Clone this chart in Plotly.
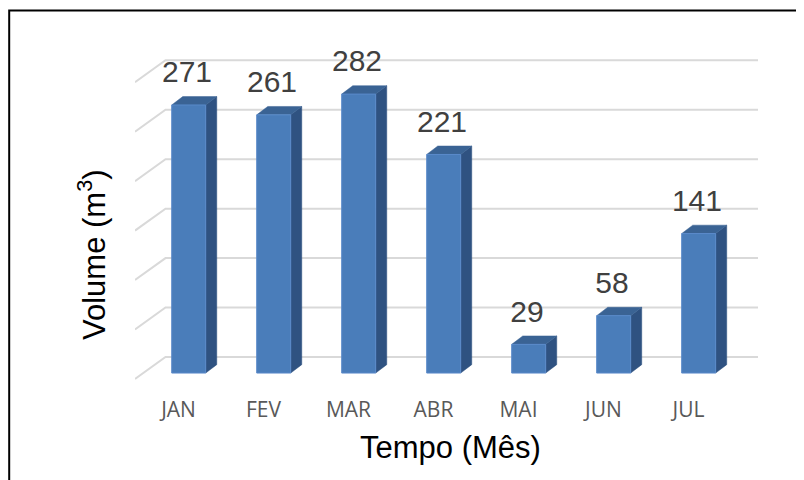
import plotly.graph_objects as go

months = ["JAN", "FEV", "MAR", "ABR", "MAI", "JUN", "JUL"]
volumes = [271, 261, 282, 221, 29, 58, 141]
grid_values = [0, 50, 100, 150, 200, 250, 300]

# geometry (data units)
bar_shift = 0.12      # front face centre offset from category position
bar_half = 0.2        # half width of the front face
depth_dx = 0.13       # 3D depth offset (x)
depth_dy = 8.5        # 3D depth offset (y)
wall_dy = 16.2        # back wall offset (y)
wall_dx = -0.153      # back wall left corner (x)
floor_dy = 22.2       # diagonal of side wall
x_lo, x_hi = -0.512, 6.818
y_lo, y_hi = -22.2, 346.8

FRONT = "#4A7DBA"
TOP = "#3A6394"
SIDE = "#2F5281"
GRID = "#D9D9D9"

# page offset (body margin) compensation, in px
OFF = 8
L, T = 135 - OFF, 30 - OFF
PW, PH = 623, 365

xs = list(range(len(months)))
fig = go.Figure()

# gridlines on the back wall + side wall diagonals
gx, gy = [], []
for v in grid_values:
    gx += [x_lo, wall_dx, x_hi, None]
    gy += [v + wall_dy - floor_dy, v + wall_dy, v + wall_dy, None]
fig.add_trace(go.Scatter(x=gx, y=gy, mode="lines",
                         line=dict(color=GRID, width=2), hoverinfo="skip"))

# faces of the 3D columns
sx, sy, tx, ty, fx, fy = [], [], [], [], [], []
for i, v in zip(xs, volumes):
    c = i + bar_shift
    r = c + bar_half
    l = c - bar_half
    sx += [r, r, r + depth_dx, r + depth_dx, r, None]
    sy += [0, v, v + depth_dy, depth_dy, 0, None]
    tx += [l, r, r + depth_dx, l + depth_dx, l, None]
    ty += [v, v, v + depth_dy, v + depth_dy, v, None]
    fx += [l, r, r, l, l, None]
    fy += [0, 0, v, v, 0, None]
fig.add_trace(go.Scatter(x=sx, y=sy, mode="lines", fill="toself",
                         fillcolor=SIDE, line=dict(color=SIDE, width=0.5),
                         hoverinfo="skip"))
fig.add_trace(go.Scatter(x=tx, y=ty, mode="lines", fill="toself",
                         fillcolor=TOP, line=dict(color=TOP, width=0.5),
                         hoverinfo="skip"))
fig.add_trace(go.Scatter(x=fx, y=fy, mode="lines", fill="toself",
                         fillcolor=FRONT, line=dict(color="#5A8ACA", width=1),
                         hoverinfo="skip"))

# data labels
fig.add_trace(go.Scatter(x=[i + bar_shift - 0.02 for i in xs],
                         y=[v + 30.5 for v in volumes],
                         mode="text", text=[str(v) for v in volumes],
                         textposition="middle center",
                         textfont=dict(family="Liberation Sans", size=30, color="#404040"),
                         hoverinfo="skip"))

fig.update_layout(
    width=804, height=480,
    margin=dict(l=L, r=804 - L - PW, t=T, b=480 - T - PH),
    paper_bgcolor="white", plot_bgcolor="white",
    showlegend=False,
    xaxis=dict(range=[x_lo, x_hi], tickmode="array", tickvals=xs, ticktext=months,
               showgrid=False, zeroline=False, showline=False, ticks="",
               tickfont=dict(family="Open Sans", size=21, color="#595959")),
    yaxis=dict(range=[y_lo, y_hi], showgrid=False, zeroline=False,
               showline=False, showticklabels=False, ticks=""),
    annotations=[
        dict(text="Tempo (Mês)", xref="paper", yref="paper",
             x=(450 - 135) / PW, y=(395 - 447) / PH,
             xanchor="center", yanchor="middle", showarrow=False,
             font=dict(family="Liberation Sans", size=31, color="black")),
        dict(text="Volume (m<sup>3</sup>)", xref="paper", yref="paper",
             x=(92 - 135) / PW, y=(395 - 255) / PH, textangle=-90,
             xanchor="center", yanchor="middle", showarrow=False,
             font=dict(family="Liberation Sans", size=31, color="black")),
    ],
    shapes=[
        dict(type="rect", xref="paper", yref="paper",
             x0=(1.2 - L) / PW, x1=2.0, y0=-2.0, y1=(T + PH - 2.5) / PH,
             line=dict(color="black", width=2), fillcolor="rgba(0,0,0,0)",
             layer="above"),
    ],
)

fig.write_html("out.html")
